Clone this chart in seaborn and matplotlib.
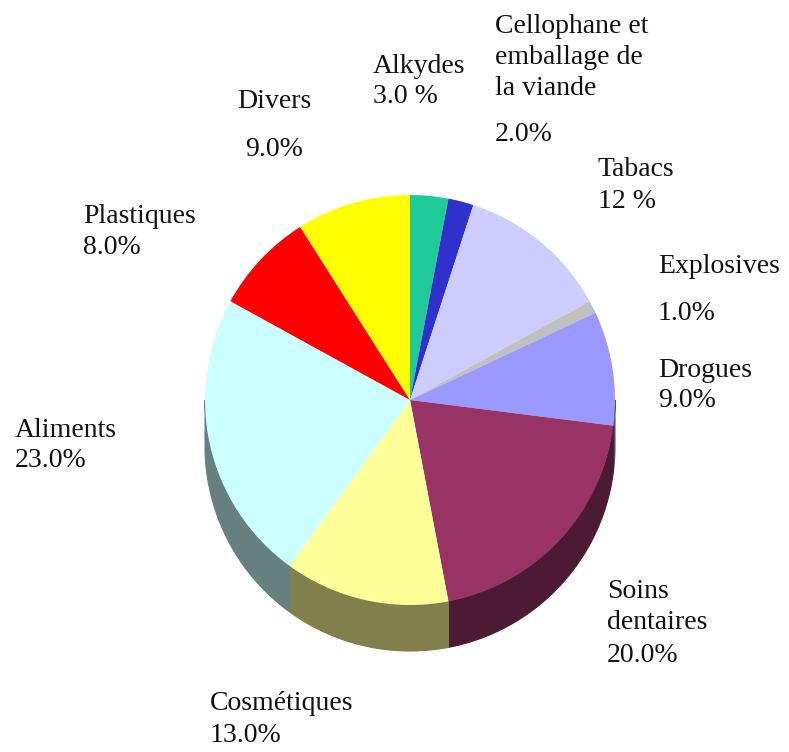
import numpy as np
import matplotlib
matplotlib.use("Agg")
import matplotlib.pyplot as plt
from matplotlib.patches import Polygon
from matplotlib.colors import to_rgb
import seaborn as sns

# Market shares by end use
categories = ["Alkydes", "Cellophane et\nemballage de\nla viande", "Tabacs", "Explosives",
              "Drogues", "Soins\ndentaires", "Cosmétiques", "Aliments", "Plastiques", "Divers"]
shares = [3.0, 2.0, 12.0, 1.0, 9.0, 20.0, 13.0, 23.0, 8.0, 9.0]
share_labels = ["3.0 %", "2.0%", "12 %", "1.0%", "9.0%", "20.0%", "13.0%", "23.0%", "8.0%", "9.0%"]
slice_colors = ["#1fcc99", "#3030cc", "#ccccff", "#c0c0c0", "#9999ff",
                "#993366", "#ffff99", "#ccffff", "#ff0000", "#ffff00"]

# Layout in figure pixels (origin top-left): first-line baseline of name, baseline of value
W, H = 789, 752
LINE = 31
name_pos = [(373, 73), (495, 33), (598, 176), (658, 273), (658, 377),
            (607, 598), (210, 710), (15, 437), (83, 223), (237, 108)]
value_pos = [(373, 103), (495, 141), (598, 208), (658, 320), (658, 407),
             (607, 662), (210, 742), (15, 467), (83, 254), (245, 156)]

CX, CY, R, DEPTH = 410, 400, 205, 46

sns.set_theme(style="white")
palette = sns.color_palette(slice_colors)

fig = plt.figure(figsize=(W / 100, H / 100), dpi=100)
ax = fig.add_axes([0, 0, 1, 1])

center = (CX, H - CY)
wedges, _ = ax.pie(shares, colors=palette, startangle=90, counterclock=False,
                   radius=R, center=center, wedgeprops=dict(linewidth=0, zorder=2))

# Side wall of the disc: lower half of each wedge extruded downward
for w, col in zip(wedges, palette):
    a0, a1 = max(w.theta1, -180.0), min(w.theta2, 0.0)
    if a1 <= a0:
        continue
    t = np.radians(np.linspace(a0, a1, 80))
    top = np.column_stack([center[0] + R * np.cos(t), center[1] + R * np.sin(t)])
    bottom = top[::-1] - np.array([0, DEPTH])
    dark = tuple(0.5 * c for c in to_rgb(col))
    ax.add_patch(Polygon(np.vstack([top, bottom]), closed=True, facecolor=dark,
                         edgecolor=dark, linewidth=0.8, zorder=1))

font = dict(family="Liberation Serif", fontsize=20, color="#111111")
for name, val, (nx, ny), (vx, vy) in zip(categories, share_labels, name_pos, value_pos):
    for i, line in enumerate(name.split("\n")):
        ax.text(nx, H - (ny + i * LINE), line, ha="left", va="baseline", **font)
    ax.text(vx, H - vy, val, ha="left", va="baseline", **font)

ax.set_xlim(0, W)
ax.set_ylim(0, H)
ax.set_aspect("equal")
ax.axis("off")
fig.savefig("out.png", dpi=100)
